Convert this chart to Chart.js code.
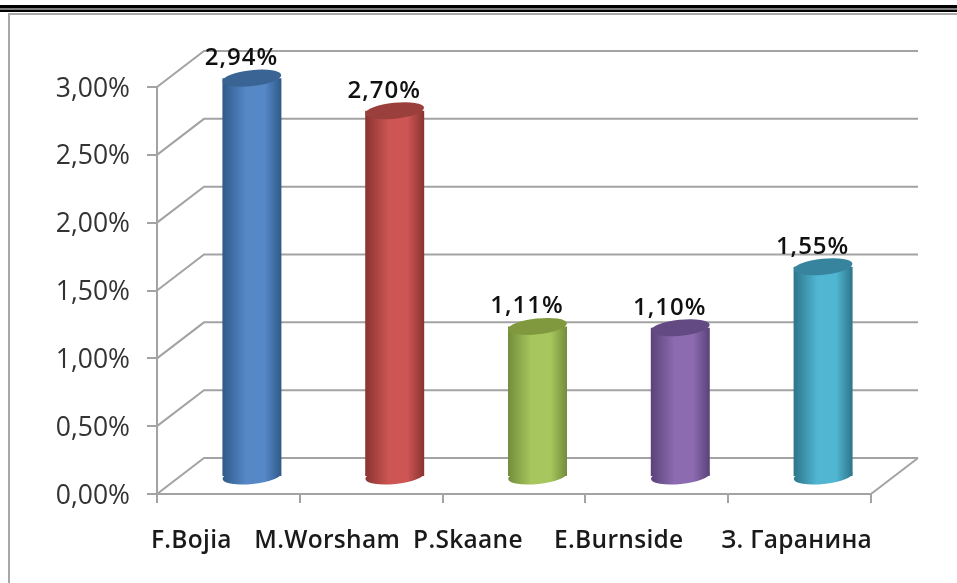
<!DOCTYPE html>
<html>
<head>
<meta charset="utf-8">
<title>chart</title>
<script src="https://cdn.jsdelivr.net/npm/chart.js@4"></script>
<style>
  html, body { margin: 0; padding: 0; background: #fff; }
  #wrap { width: 957px; height: 583px; }
  canvas { filter: blur(0.5px); }
</style>
</head>
<body>
<div id="wrap"><canvas id="myChart" width="957" height="583"></canvas></div>
<script>
const categories = ['F.Bojia', 'M.Worsham', 'P.Skaane', 'E.Burnside', 'З. Гаранина'];
const values = [2.94, 2.70, 1.11, 1.10, 1.55];
const yTicks = [0, 0.5, 1, 1.5, 2, 2.5, 3];

const edgeColors = ['#2f5988', '#883432', '#728d3a', '#5a4279', '#2c758a'];
const midColors = ['#5688c8', '#cd5553', '#a7c75e', '#8c6bb0', '#50b6d2'];
const topColors = ['#3a6494', '#9b3f3c', '#80993f', '#634a82', '#37849e'];

const gray = '#a3a3a3';
const depthX = 47, depthY = 36;   // 3d wall offset
const barFrac = 0.413;
const xLabelShift = [-37, -44, -46, -38, -3];

function pct(v) {
  return v.toFixed(2).replace('.', ',') + '%';
}

function cylGradient(ctx, cx, w, i) {
  const g = ctx.createLinearGradient(cx - w / 2, 0, cx + w / 2, 0);
  g.addColorStop(0, edgeColors[i]);
  g.addColorStop(0.4, midColors[i]);
  g.addColorStop(0.72, midColors[i]);
  g.addColorStop(1, edgeColors[i]);
  return g;
}

function ellipseAt(ctx, x, y, rx, fill) {
  ctx.beginPath();
  ctx.ellipse(x, y, rx, 8, -6 * Math.PI / 180, 0, Math.PI * 2);
  ctx.fillStyle = fill;
  ctx.fill();
}

const cylinder3d = {
  id: 'cylinder3d',
  beforeDatasetsDraw(chart) {
    const ctx = chart.ctx, y = chart.scales.y, a = chart.chartArea;
    ctx.save();
    // frame of the page
    ctx.fillStyle = '#000';
    ctx.fillRect(0, 5, 957, 3.5);
    ctx.fillRect(0, 9.5, 957, 2.5);
    ctx.fillStyle = '#a8a8a8';
    ctx.fillRect(8, 13, 949, 2);
    ctx.fillRect(8, 13, 2, 570);
    // walls
    ctx.strokeStyle = gray;
    ctx.lineWidth = 2;
    yTicks.forEach(t => {
      const py = y.getPixelForValue(t);
      ctx.beginPath();
      ctx.moveTo(a.left, py);
      ctx.lineTo(a.left + depthX, py - depthY);
      ctx.lineTo(a.right + depthX, py - depthY);
      ctx.stroke();
    });
    ctx.beginPath();
    ctx.moveTo(a.right, a.bottom);
    ctx.lineTo(a.right + depthX, a.bottom - depthY);
    ctx.stroke();
    ctx.restore();

    // bars stand in the middle of the floor depth
    ctx.save();
    ctx.translate(depthX / 2, -depthY / 2 + 1);
    chart.getDatasetMeta(0).data.forEach((el, i) => {
      ellipseAt(ctx, el.x, el.base, el.width / 2, cylGradient(ctx, el.x, el.width, i));
    });
  },
  afterDatasetsDraw(chart) {
    const ctx = chart.ctx;
    chart.getDatasetMeta(0).data.forEach((el, i) => {
      ellipseAt(ctx, el.x, el.y, el.width / 2, topColors[i]);
    });
    ctx.restore();
  },
  afterDraw(chart) {
    const ctx = chart.ctx;
    const meta = chart.getDatasetMeta(0);
    ctx.save();
    ctx.textAlign = 'center';
    ctx.textBaseline = 'middle';
    ctx.fillStyle = '#111';
    ctx.font = '600 24px "Open Sans"';
    ctx.letterSpacing = '1px';
    meta.data.forEach((el, i) => {
      ctx.fillText(pct(values[i]), el.x + 13, el.y - 37);
    });
    ctx.fillStyle = '#1a1a1a';
    ctx.font = '600 24.5px "Open Sans"';
    ctx.letterSpacing = '0.3px';
    meta.data.forEach((el, i) => {
      ctx.fillText(categories[i], el.x + xLabelShift[i], 541);
    });
    ctx.restore();
  }
};

const ctx = document.getElementById('myChart').getContext('2d');
new Chart(ctx, {
  type: 'bar',
  data: {
    labels: categories,
    datasets: [{
      data: values,
      clip: false,
      categoryPercentage: 1,
      barPercentage: barFrac,
      borderWidth: 0,
      backgroundColor: c => {
        const x = c.chart.scales.x;
        if (!c.chart.chartArea || c.dataIndex === undefined) return midColors[0];
        const w = x.width / categories.length * barFrac;
        return cylGradient(c.chart.ctx, x.getPixelForValue(c.dataIndex), w, c.dataIndex);
      }
    }]
  },
  options: {
    responsive: false,
    animation: false,
    layout: { padding: { top: 87, right: 86, left: 0, bottom: 0 } },
    plugins: { legend: { display: false }, tooltip: { enabled: false } },
    scales: {
      x: {
        afterFit: s => { s.height = 89; },
        grid: { drawOnChartArea: false, drawTicks: true, tickLength: 9, color: gray, lineWidth: 2 },
        border: { color: gray, width: 2 },
        ticks: { display: false }
      },
      y: {
        min: 0,
        max: 3,
        afterFit: s => { s.width = 157; },
        grid: { drawOnChartArea: false, drawTicks: true, tickLength: 10, color: gray, lineWidth: 2 },
        border: { color: gray, width: 2 },
        ticks: {
          stepSize: 0.5,
          padding: 17,
          labelOffset: 2,
          color: '#333',
          font: { family: 'Open Sans', size: 26.5 },
          callback: v => pct(v)
        }
      }
    }
  },
  plugins: [cylinder3d]
});
</script>
</body>
</html>
